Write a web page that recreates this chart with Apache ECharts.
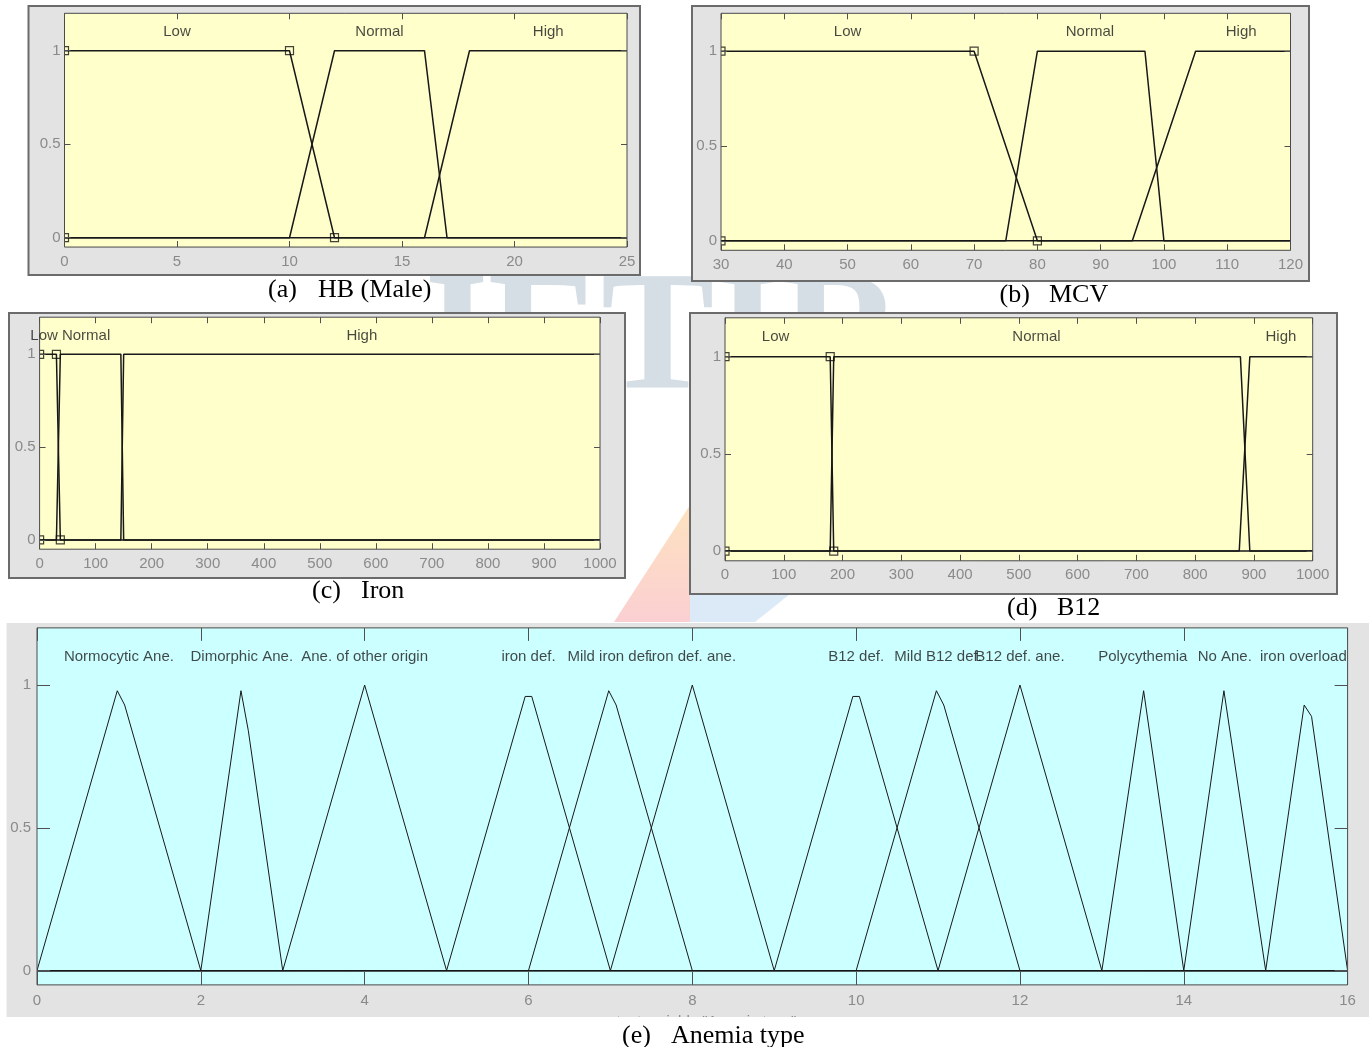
<!DOCTYPE html>
<html><head><meta charset="utf-8">
<script src="https://cdn.jsdelivr.net/npm/echarts/dist/echarts.min.js"></script>
<style>html,body{margin:0;padding:0;background:#fff;}#c{width:1369px;height:1047px;}</style>
</head><body><div id="c"></div>
<script>
// ---------------- data ----------------
const yTicks = [0, 0.5, 1];

// (a) HB (Male)
const hbTicks = [0, 5, 10, 15, 20, 25];
const hbLow = [[0, 1], [10, 1], [12, 0], [25, 0]];
const hbNormal = [[0, 0], [10, 0], [12, 1], [16, 1], [17, 0], [25, 0]];
const hbHigh = [[0, 0], [16, 0], [18, 1], [25, 1]];
const hbLowPts = [[0, 0], [0, 1], [10, 1], [12, 0]];
const hbLabels = [[5, 'Low'], [14, 'Normal'], [21.5, 'High']];

// (b) MCV
const mcvTicks = [30, 40, 50, 60, 70, 80, 90, 100, 110, 120];
const mcvLow = [[30, 1], [70, 1], [80, 0], [120, 0]];
const mcvNormal = [[30, 0], [75, 0], [80, 1], [97, 1], [100, 0], [120, 0]];
const mcvHigh = [[30, 0], [95, 0], [105, 1], [120, 1]];
const mcvLowPts = [[30, 0], [30, 1], [70, 1], [80, 0]];
const mcvLabels = [[50, 'Low'], [88.3, 'Normal'], [112.2, 'High']];

// (c) Iron
const ironTicks = [0, 100, 200, 300, 400, 500, 600, 700, 800, 900, 1000];
const ironLow = [[0, 1], [30, 1], [37, 0], [1000, 0]];
const ironNormal = [[0, 0], [30, 0], [37, 1], [145, 1], [150, 0], [1000, 0]];
const ironHigh = [[0, 0], [145, 0], [150, 1], [1000, 1]];
const ironLowPts = [[0, 0], [0, 1], [30, 1], [37, 0]];
const ironLabels = [[8, 'Low'], [83, 'Normal'], [575, 'High']];

// (d) B12
const b12Ticks = [0, 100, 200, 300, 400, 500, 600, 700, 800, 900, 1000];
const b12Low = [[0, 1], [179, 1], [185, 0], [1000, 0]];
const b12Normal = [[0, 0], [179, 0], [185, 1], [877, 1], [893, 0], [1000, 0]];
const b12High = [[0, 0], [875, 0], [893, 1], [1000, 1]];
const b12LowPts = [[0, 0], [0, 1], [179, 1], [185, 0]];
const b12Labels = [[86, 'Low'], [530, 'Normal'], [946, 'High']];

// (e) Anemia type
const anemiaTicks = [0, 2, 4, 6, 8, 10, 12, 14, 16];
const anemiaNames = ['Normocytic Ane.', 'Dimorphic Ane.', 'Ane. of other origin', 'iron def.', 'Mild iron def.', 'iron def. ane.',
  'B12 def.', 'Mild B12 def.', 'B12 def. ane.', 'Polycythemia', 'No Ane.', 'iron overload'];
const anemiaPeaks = [1, 2.5, 4, 6, 7, 8, 10, 11, 12, 13.5, 14.5, 15.46];
const mfNormocytic = [[0, 0], [0.98, 0.98], [1.07, 0.93], [2, 0], [16, 0]];
const mfDimorphic = [[0, 0], [2, 0], [2.49, 0.98], [2.58, 0.84], [3, 0], [16, 0]];
const mfOther = [[0, 0], [3, 0], [4, 1], [5, 0], [16, 0]];
const mfIronDef = [[0, 0], [5, 0], [5.96, 0.96], [6.04, 0.96], [7, 0], [16, 0]];
const mfMildIron = [[0, 0], [6, 0], [6.98, 0.98], [7.07, 0.93], [8, 0], [16, 0]];
const mfIronAne = [[0, 0], [7, 0], [8, 1], [9, 0], [16, 0]];
const mfB12Def = [[0, 0], [9, 0], [9.96, 0.96], [10.04, 0.96], [11, 0], [16, 0]];
const mfMildB12 = [[0, 0], [10, 0], [10.98, 0.98], [11.07, 0.93], [12, 0], [16, 0]];
const mfB12Ane = [[0, 0], [11, 0], [12, 1], [13, 0], [16, 0]];
const mfPoly = [[0, 0], [13, 0], [13.51, 0.98], [14, 0], [16, 0]];
const mfNoAne = [[0, 0], [14, 0], [14.49, 0.98], [15, 0], [16, 0]];
const mfOverload = [[0, 0], [15, 0], [15.47, 0.93], [15.56, 0.89], [16, 0]];

const captionTags = ['(a)', '(b)', '(c)', '(d)', '(e)'];
const captionNames = ['HB (Male)', 'MCV', 'Iron', 'B12', 'Anemia type'];
const anemiaAxisName = 'output variable "Anemia type"';

// ---------------- layout / style ----------------
const YELLOW = '#ffffcc', CYAN = '#ccffff', FRAME = '#e3e3e3';
const panels = [
  { g: [64.5, 13.3, 562.5, 233.75], f: [28.5, 6, 611.5, 269], border: true, bg: YELLOW, xr: [0, 25], xt: hbTicks, tick: 6, ylm: 4, xlm: 7, lw: 1.5,
    curves: [hbLow, hbNormal, hbHigh], pts: hbLowPts, labels: hbLabels },
  { g: [721, 13.3, 569.5, 237], f: [692, 6, 617, 275], border: true, bg: YELLOW, xr: [30, 120], xt: mcvTicks, tick: 6, ylm: 4, xlm: 7, lw: 1.5,
    curves: [mcvLow, mcvNormal, mcvHigh], pts: mcvLowPts, labels: mcvLabels },
  { g: [39.6, 317.2, 560.4, 232], f: [9, 313, 616, 265], border: true, bg: YELLOW, xr: [0, 1000], xt: ironTicks, tick: 6, ylm: 4, xlm: 7, lw: 1.5,
    curves: [ironLow, ironNormal, ironHigh], pts: ironLowPts, labels: ironLabels },
  { g: [725, 317.8, 587.7, 243], f: [690, 313, 647, 281], border: true, bg: YELLOW, xr: [0, 1000], xt: b12Ticks, tick: 6, ylm: 4, xlm: 7, lw: 1.5,
    curves: [b12Low, b12Normal, b12High], pts: b12LowPts, labels: b12Labels },
  { g: [37, 627.9, 1310.6, 357], f: [6.7, 623, 1362.3, 394], border: false, bg: CYAN, xr: [0, 16], xt: anemiaTicks, tick: 13, ylm: 6, xlm: 8, lw: 1,
    curves: [mfNormocytic, mfDimorphic, mfOther, mfIronDef, mfMildIron, mfIronAne, mfB12Def, mfMildB12, mfB12Ane, mfPoly, mfNoAne, mfOverload],
    pts: null, labels: anemiaPeaks.map((x, i) => [x, anemiaNames[i]]) }
];
// caption text positions: tag left x, name left x, centre y
const capLayout = [[268, 318, 290], [999.5, 1049, 295], [312, 361, 591], [1007, 1057, 608], [622, 671, 1036]];

const grids = [], xAxes = [], yAxes = [], series = [], graphics = [];
const tickStyle = { color: '#505050', width: 1 };
const labelFont = { color: '#8a8a8a', fontSize: 15, fontFamily: 'Liberation Sans', formatter: v => String(v) };

// faint watermark behind the panels
graphics.push({ type: 'text', z: -10, silent: true,
  style: { text: 'JETIR', x: 653, y: 343, textAlign: 'center', align: 'center', textVerticalAlign: 'middle', verticalAlign: 'middle',
    fill: '#d5dee5', fontSize: 170, fontWeight: 'bold', fontFamily: 'Liberation Serif' } });
graphics.push({ type: 'polygon', z: -10, silent: true, shape: { points: [[690, 505], [690, 622], [614, 622]] },
  style: { fill: new echarts.graphic.LinearGradient(0, 0, 0, 1, [{ offset: 0, color: '#fde2bf' }, { offset: 1, color: '#fbcfd2' }]) } });
graphics.push({ type: 'polygon', z: -10, silent: true, shape: { points: [[690, 594], [790, 594], [755, 622], [690, 622]] },
  style: { fill: '#dbeaf6' } });

panels.forEach((p, i) => {
  const [gl, gt, gw, gh] = p.g;
  grids.push({ left: gl, top: gt, width: gw, height: gh, show: true, backgroundColor: p.bg, borderWidth: 0, containLabel: false });
  ['bottom', 'top'].forEach(pos => xAxes.push({
    type: 'value', gridIndex: i, min: p.xr[0], max: p.xr[1], position: pos, z: 7,
    axisLine: { show: false, onZero: false }, splitLine: { show: false },
    axisTick: { show: true, inside: true, length: p.tick, customValues: p.xt, lineStyle: tickStyle },
    axisLabel: Object.assign({ show: pos === 'bottom', customValues: p.xt, margin: p.xlm }, labelFont)
  }));
  ['left', 'right'].forEach(pos => yAxes.push({
    type: 'value', gridIndex: i, min: -0.05, max: 1.2, position: pos, z: 7,
    axisLine: { show: false, onZero: false }, splitLine: { show: false },
    axisTick: { show: true, inside: true, length: p.tick, customValues: yTicks, lineStyle: tickStyle },
    axisLabel: Object.assign({ show: pos === 'left', customValues: yTicks, margin: p.ylm }, labelFont)
  }));
  p.curves.forEach(c => series.push({
    type: 'line', xAxisIndex: 2 * i, yAxisIndex: 2 * i, data: c, symbol: 'none', silent: true, z: 2,
    lineStyle: { color: '#181818', width: p.lw }
  }));
  if (p.pts) series.push({
    type: 'scatter', xAxisIndex: 2 * i, yAxisIndex: 2 * i, data: p.pts, symbol: 'rect', symbolSize: 8, silent: true, z: 2,
    itemStyle: { color: 'rgba(0,0,0,0)', borderColor: '#111', borderWidth: 1.2 }
  });
  series.push({
    type: 'scatter', xAxisIndex: 2 * i, yAxisIndex: 2 * i, symbolSize: 1, silent: true, z: 6,
    data: p.labels.map(l => ({ value: [l[0], 1.1], name: l[1] })),
    itemStyle: { color: 'rgba(0,0,0,0)' },
    label: { show: true, position: 'inside', formatter: '{b}', color: '#1a1a1a', fontSize: 15, fontFamily: 'Liberation Sans' }
  });
  // frame
  const [fx, fy, fw, fh] = p.f;
  graphics.push({ type: 'rect', z: -5, silent: true, shape: { x: fx, y: fy, width: fw, height: fh }, style: { fill: FRAME } });
  // strips around the plot (clip overflow of markers)
  [[fx, fy, gl - fx, fh], [gl + gw, fy, fx + fw - gl - gw, fh], [gl, fy, gw, gt - fy], [gl, gt + gh, gw, fy + fh - gt - gh]].forEach(s =>
    graphics.push({ type: 'rect', z: 3, silent: true, shape: { x: s[0], y: s[1], width: s[2], height: s[3] }, style: { fill: FRAME } }));
  if (p.border) graphics.push({ type: 'rect', z: 4, silent: true, shape: { x: fx, y: fy, width: fw, height: fh },
    style: { fill: null, stroke: '#6b6b6b', lineWidth: 2 } });
  graphics.push({ type: 'rect', z: 4, silent: true, shape: { x: gl, y: gt, width: gw, height: gh },
    style: { fill: null, stroke: '#4a4a4a', lineWidth: 1 } });
});

// x-axis name of (e), mostly cut off by the page below
graphics.push({ type: 'text', z: 4, silent: true,
  style: { text: anemiaAxisName, x: 698, y: 1021.5, textAlign: 'center', align: 'center', textVerticalAlign: 'middle', verticalAlign: 'middle',
    fill: '#8a8a8a', fontSize: 15, fontFamily: 'Liberation Sans' } });
graphics.push({ type: 'rect', z: 5, silent: true, shape: { x: 0, y: 1017, width: 1369, height: 30 }, style: { fill: '#ffffff' } });

const capText = (txt, x, y) => ({ type: 'text', z: 6, silent: true,
  style: { text: txt, x: x, y: y, textAlign: 'left', align: 'left', textVerticalAlign: 'middle', verticalAlign: 'middle',
    fill: '#000', fontSize: 26, fontFamily: 'Liberation Serif' } });
capLayout.forEach((c, i) => {
  graphics.push(capText(captionTags[i], c[0], c[2]));
  graphics.push(capText(captionNames[i], c[1], c[2]));
});

const chart = echarts.init(document.getElementById('c'), null, { renderer: 'canvas' });
chart.setOption({ animation: false, grid: grids, xAxis: xAxes, yAxis: yAxes, series: series, graphic: { elements: graphics } });
</script></body></html>
